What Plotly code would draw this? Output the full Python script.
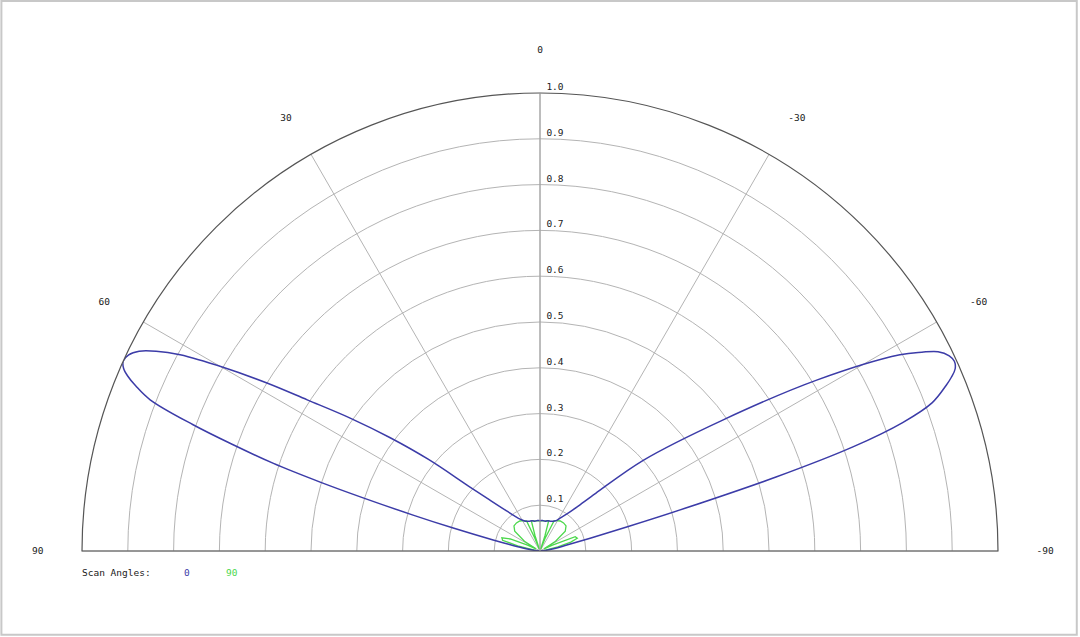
import plotly.graph_objects as go

# scan angle 0 pattern (theta in degrees, 0 = broadside / up, +90 = left)
theta_scan0 = [
    90, 86, 82, 80, 78, 76.8, 75.2, 74.2, 73.3, 72.6, 71.8, 70.9, 70.0, 68.8,
    67.8, 67.0, 66.3, 65.5, 64.5, 63.5, 62.5, 61.4, 59.9, 58.4, 57.0, 55.0,
    52.9, 50.6, 47.7, 44.5, 40, 36, 32, 28, 24, 20, 14, 10, 5, 0, -5, -10, -14,
    -20, -24, -28, -31.5, -36, -40, -44, -48.7, -54.4, -58.3, -61.4, -62.5,
    -63.4, -64.5, -65.4, -66.3, -67.1, -67.8, -69.3, -70.5, -71.6, -72.6,
    -73.6, -74.5, -75.7, -77.5, -80, -82, -86, -90,
]
r_scan0 = [
    0.0, 0.005, 0.02, 0.038, 0.07, 0.105, 0.196, 0.288, 0.40, 0.503, 0.614,
    0.709, 0.806, 0.913, 0.953, 0.978, 0.993, 1.0, 0.995, 0.978, 0.945, 0.895,
    0.80, 0.70, 0.606, 0.506, 0.41, 0.315, 0.21, 0.155, 0.115, 0.095, 0.082,
    0.075, 0.071, 0.069, 0.068, 0.066, 0.067, 0.066, 0.067, 0.066, 0.068,
    0.069, 0.071, 0.075, 0.084, 0.10, 0.125, 0.175, 0.30, 0.492, 0.71, 0.895,
    0.94, 0.972, 0.99, 0.995, 0.99, 0.975, 0.958, 0.915, 0.84, 0.72, 0.54,
    0.33, 0.2, 0.113, 0.06, 0.035, 0.02, 0.005, 0.0,
]

# scan angle 90 pattern
theta_scan90 = [
    90, 84, 80, 77, 74, 71, 68, 65, 62, 58, 52, 46, 40, 34, 28, 24, 22, 20,
    18, 16, 10, 4, 0, -4, -10, -16, -18, -20, -22, -25, -28, -34, -40, -46,
    -52, -58, -62, -65, -68, -71, -74, -77, -80, -84, -90,
]
r_scan90 = [
    0.0, 0.004, 0.012, 0.05, 0.085, 0.088, 0.07, 0.03, 0.01, 0.04, 0.07,
    0.079, 0.08, 0.079, 0.075, 0.072, 0.03, 0.004, 0.035, 0.069, 0.067,
    0.066, 0.066, 0.066, 0.067, 0.069, 0.035, 0.004, 0.03, 0.073, 0.075,
    0.079, 0.08, 0.079, 0.07, 0.04, 0.01, 0.03, 0.083, 0.086, 0.07, 0.04,
    0.012, 0.004, 0.0,
]

angle_ticks = [-90, -60, -30, 0, 30, 60, 90]
radial_ticks = [0.1, 0.2, 0.3, 0.4, 0.5, 0.6, 0.7, 0.8, 0.9, 1.0]

blue = "#3c3ca8"
green = "#4cd84c"
mono = "DejaVu Sans Mono"
text_col = "#1a1a1a"

fig = go.Figure()
fig.add_trace(go.Scatterpolar(
    r=r_scan90, theta=theta_scan90, mode="lines",
    line=dict(color=green, width=1.3), name="90",
))
fig.add_trace(go.Scatterpolar(
    r=r_scan0, theta=theta_scan0, mode="lines",
    line=dict(color=blue, width=1.5, shape="spline", smoothing=1.0), name="0",
))

fig.update_layout(
    width=1080, height=637,
    margin=dict(l=82, r=82, t=93, b=86),
    paper_bgcolor="white",
    showlegend=False,
    font=dict(family=mono, size=9.5, color=text_col),
    polar=dict(
        sector=[0, 180],
        bgcolor="white",
        angularaxis=dict(
            rotation=90, direction="counterclockwise",
            tickvals=angle_ticks, ticktext=[str(a) for a in angle_ticks],
            ticks="outside", ticklen=36, tickcolor="rgba(0,0,0,0)",
            showline=True, linecolor="#555555", linewidth=1.2,
            gridcolor="#b4b4b4", gridwidth=1,
        ),
        radialaxis=dict(
            range=[0, 1], angle=90, tickangle=90,
            tickvals=radial_ticks,
            # the labels sit a little above their rings
            ticktext=["%.1f<br> " % v for v in radial_ticks],
            ticks="outside", ticklen=4, tickcolor="rgba(0,0,0,0)",
            showline=True, linecolor="#a0a0a0", linewidth=1,
            gridcolor="#b4b4b4", gridwidth=1,
        ),
    ),
    annotations=[
        dict(text="Scan Angles:", x=-0.002, y=-0.048, xref="paper", yref="paper",
             xanchor="left", yanchor="middle", showarrow=False,
             font=dict(family=mono, size=9.5, color=text_col)),
        dict(text="0", x=0.109, y=-0.048, xref="paper", yref="paper",
             xanchor="left", yanchor="middle", showarrow=False,
             font=dict(family=mono, size=9.5, color=blue)),
        dict(text="90", x=0.155, y=-0.048, xref="paper", yref="paper",
             xanchor="left", yanchor="middle", showarrow=False,
             font=dict(family=mono, size=9.5, color=green)),
    ],
    shapes=[
        dict(type="rect", xref="paper", yref="paper",
             x0=-0.088, x1=1.086, y0=-0.183, y1=1.201,
             line=dict(color="#c8c8c8", width=2)),
    ],
)

# drop the default page margin so the figure sits at the window corner
fig.write_html(
    "out.html",
    config={"displayModeBar": False},
    post_script="document.body.style.margin = '0';",
)
